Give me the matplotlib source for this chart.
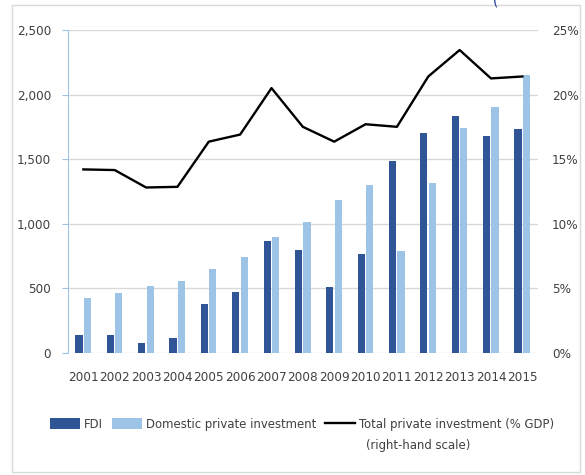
import matplotlib
matplotlib.use("Agg")
import matplotlib.pyplot as plt
from matplotlib import font_manager
from matplotlib.patches import Rectangle
from matplotlib.ticker import FuncFormatter

years = ["2001", "2002", "2003", "2004", "2005", "2006", "2007", "2008",
         "2009", "2010", "2011", "2012", "2013", "2014", "2015"]
fdi = [137, 137, 73, 112, 376, 471, 862, 797, 512, 766, 1488, 1703, 1832, 1677, 1734]
domestic = [422, 461, 518, 559, 650, 745, 893, 1009, 1180, 1302, 784, 1312, 1742, 1905, 2148]
total_pct = [14.2, 14.15, 12.8, 12.85, 16.35, 16.9, 20.5, 17.5,
             16.35, 17.7, 17.5, 21.4, 23.45, 21.25, 21.4]

dark_blue = "#2F5597"
light_blue = "#9DC3E6"
grid_col = "#D9D9D9"
text_col = "#404040"

# narrow font, as close to the original as the installed fonts allow
names = [(f.name, f.stretch) for f in font_manager.fontManager.ttflist]
if any(n == "Liberation Sans Narrow" for n, s in names):
    plt.rcParams["font.family"] = ["Liberation Sans Narrow", "DejaVu Sans"]
    fsize, lsize = 11, 10.8
elif any(n == "DejaVu Sans" and s == "condensed" for n, s in names):
    plt.rcParams["font.family"] = ["DejaVu Sans"]
    plt.rcParams["font.stretch"] = "condensed"
    fsize, lsize = 9.6, 9.4
else:
    plt.rcParams["font.family"] = ["Liberation Sans", "DejaVu Sans"]
    fsize, lsize = 9.6, 9.4
plt.rcParams["font.size"] = fsize

fig = plt.figure(figsize=(5.85, 4.75), dpi=100)
ax = fig.add_axes([0.1157, 0.2575, 0.804, 0.6793])
ax2 = ax.twinx()

x = list(range(len(years)))
w = 0.23
ax.bar([i - 0.14 for i in x], fdi, width=w, color=dark_blue, label="FDI", zorder=2)
ax.bar([i + 0.13 for i in x], domestic, width=w, color=light_blue,
       label="Domestic private investment", zorder=2)
ax2.plot(x, total_pct, color="black", lw=1.7, label="Total private investment (% GDP)")

ax.set_xlim(-0.5, len(years) - 0.5)
ax.set_ylim(0, 2500)
ax2.set_ylim(0, 25)
ax.set_yticks(range(0, 2501, 500))
ax2.set_yticks(range(0, 26, 5))
ax.yaxis.set_major_formatter(FuncFormatter(lambda v, p: f"{int(v):,}"))
ax2.yaxis.set_major_formatter(FuncFormatter(lambda v, p: f"{int(v)}%"))
ax.set_xticks(x)
ax.set_xticklabels(years)

ax.grid(axis="y", color=grid_col, lw=1, zorder=0)
ax.set_axisbelow(True)
for a in (ax, ax2):
    for s in a.spines.values():
        s.set_visible(False)
ax.spines["left"].set_visible(True)
ax.spines["left"].set_color(light_blue)
ax.tick_params(axis="y", colors=light_blue, length=4, pad=8, labelcolor=text_col)
ax.tick_params(axis="x", length=0, pad=13, labelcolor=text_col)
ax2.tick_params(axis="y", length=0, pad=10, labelcolor=text_col)

handles = ax.get_legend_handles_labels()[0] + ax2.get_legend_handles_labels()[0]
labels = ["FDI", "Domestic private investment", "Total private investment (% GDP)"]
leg = fig.legend(handles, labels, loc="center left", bbox_to_anchor=(50 / 585, 0.107),
                 ncol=3, frameon=False, borderpad=0, borderaxespad=0, fontsize=lsize,
                 handlelength=2.3, handleheight=0.9, handletextpad=0.3,
                 columnspacing=0.7, labelcolor=text_col)

fig.canvas.draw()
bb = leg.get_texts()[2].get_window_extent().transformed(fig.transFigure.inverted())
fig.text(bb.x0 + 0.012, bb.y0 - 0.018, "(right-hand scale)", color=text_col,
         fontsize=lsize, ha="left", va="top")

# light frame around the figure and the cut-off title bit at the top
fig.patches.append(Rectangle((12 / 585, 1 - 472 / 475), 568 / 585, 467 / 475,
                             transform=fig.transFigure, fill=False,
                             edgecolor=grid_col, lw=1))
fig.text(493 / 585, 1.0, "(", color="#1F3F8F", fontsize=11, va="center")

fig.savefig("out.png", dpi=100)
